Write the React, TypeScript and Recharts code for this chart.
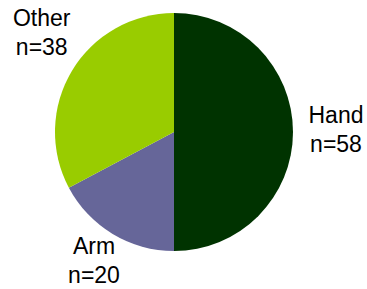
import React from 'react';
import { PieChart, Pie, Cell } from 'recharts';

const categories = ['Hand', 'Arm', 'Other'];
const counts = [58, 20, 38];
const colors = ['#003300', '#666699', '#99CC00'];

const data = categories.map((name, i) => ({ name, value: counts[i] }));

// small hand tweaks so labels sit where the original puts them
const nudge: Record<string, [number, number]> = {
  Hand: [3, -9],
  Arm: [2, -14],
  Other: [4, -24],
};

const RADIAN = Math.PI / 180;

const renderLabel = (props: any) => {
  const { cx, cy, midAngle, outerRadius, name, value } = props;
  const r = outerRadius + 40;
  const [dx, dy] = nudge[name] || [0, 0];
  const x = cx + r * Math.cos(-midAngle * RADIAN) + dx;
  const y = cy + r * Math.sin(-midAngle * RADIAN) + dy;
  return (
    <text
      x={x}
      y={y}
      textAnchor="middle"
      fill="#000"
      fontSize={23}
      fontFamily="Arial, 'Liberation Sans', sans-serif"
    >
      <tspan x={x} y={y}>{name}</tspan>
      <tspan x={x} y={y + 29}>{`n=${value}`}</tspan>
    </text>
  );
};

const App = () => {
  return (
    <div style={{ position: 'absolute', left: 0, top: 0, width: 367, height: 289, background: '#fff' }}>
      <PieChart width={367} height={289} margin={{ top: 0, right: 0, bottom: 0, left: 0 }}>
        <Pie
          data={data}
          dataKey="value"
          nameKey="name"
          cx={174}
          cy={132}
          outerRadius={119}
          startAngle={90}
          endAngle={-270}
          stroke="none"
          label={renderLabel}
          labelLine={false}
          isAnimationActive={false}
        >
          {data.map((d, i) => (
            <Cell key={d.name} fill={colors[i]} />
          ))}
        </Pie>
      </PieChart>
    </div>
  );
};

export default App;
